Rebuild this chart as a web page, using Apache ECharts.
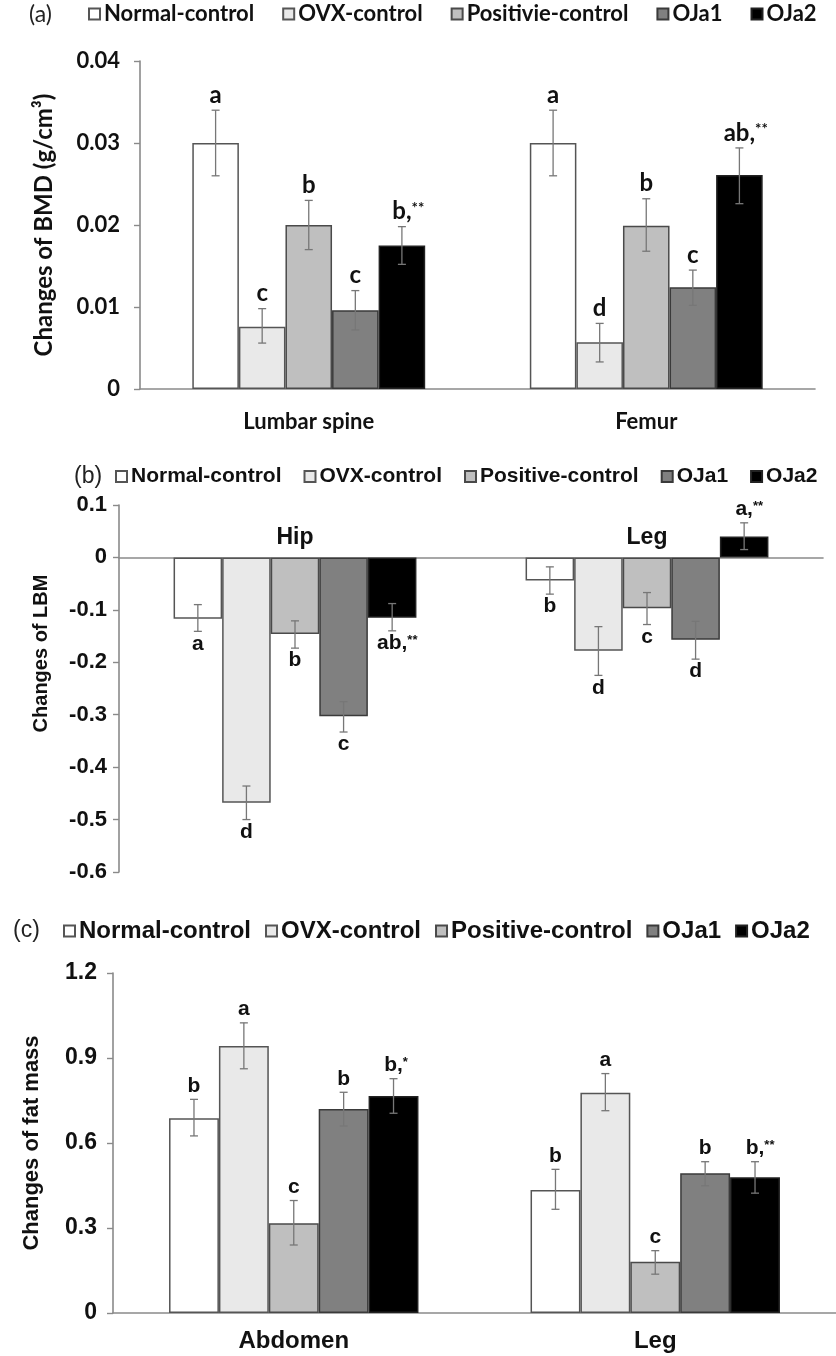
<!DOCTYPE html>
<html><head><meta charset="utf-8">
<script src="https://cdn.jsdelivr.net/npm/echarts/dist/echarts.min.js"></script>
<style>html,body{margin:0;padding:0;background:#fff}#c{width:836px;height:1356px}</style>
</head><body><div id="c"></div>
<script>
// ---------------- DATA ----------------
const namesA = ['Normal-control','OVX-control','Positivie-control','OJa1','OJa2'];
const namesBC = ['Normal-control','OVX-control','Positive-control','OJa1','OJa2'];

// Panel (a): Changes of BMD (g/cm3); rows = category, columns = group
const catsA = ['Lumbar spine','Femur'];
const valsA = [[0.030,0.0076,0.020,0.0096,0.0175],[0.030,0.0057,0.0199,0.0124,0.0261]];
const lowA  = [[0.026,0.0056,0.017,0.0072,0.0152],[0.026,0.0033,0.0168,0.0102,0.0226]];
const highA = [[0.034,0.0098,0.023,0.0120,0.0198],[0.034,0.0080,0.0232,0.0145,0.0294]];
const lettersA = [['a','c','b','c','b,**'],['a','d','b','c','ab,**']];
const ticksA = [0,0.01,0.02,0.03,0.04];

// Panel (b): Changes of LBM
const catsB = ['Hip','Leg'];
const valsB = [[-0.117,-0.468,-0.146,-0.303,-0.115],[-0.044,-0.178,-0.097,-0.157,0.040]];
const lowB  = [[-0.141,-0.500,-0.173,-0.333,-0.140],[-0.070,-0.225,-0.128,-0.194,0.015]];
const highB = [[-0.090,-0.436,-0.121,-0.275,-0.088],[-0.018,-0.132,-0.067,-0.122,0.066]];
const lettersB = [['a','d','b','c','ab,**'],['b','d','c','d','a,**']];
const ticksB = [-0.6,-0.5,-0.4,-0.3,-0.2,-0.1,0,0.1];

// Panel (c): Changes of fat mass
const catsC = ['Abdomen','Leg'];
const valsC = [[0.687,0.942,0.317,0.720,0.766],[0.434,0.777,0.181,0.493,0.479]];
const lowC  = [[0.625,0.862,0.240,0.660,0.705],[0.366,0.714,0.137,0.449,0.423]];
const highC = [[0.754,1.024,0.397,0.779,0.827],[0.507,0.845,0.220,0.534,0.534]];
const lettersC = [['b','a','c','b','b,*'],['b','a','c','b','b,**']];
const ticksC = [0,0.3,0.6,0.9,1.2];

// ---------------- STYLE ----------------
const fills = ['#ffffff','#e9e9e9','#bfbfbf','#808080','#000000'];
const borders = ['#555555','#555555','#4a4a4a','#3a3a3a','#222222'];
const FONT_A = 'Lato, "Open Sans", sans-serif';
const FONT_B = '"Liberation Sans Narrow", "Liberation Sans", Arial, sans-serif';
const FONT_C = '"Liberation Sans", Arial, sans-serif';
const ctx = document.createElement('canvas').getContext('2d');
function textW(t, font){ ctx.font = font; return ctx.measureText(t).width; }

const panels = [
  {cats:catsA, vals:valsA, low:lowA, high:highA, letters:lettersA, ticks:ticksA, names:namesA,
   grid:{left:140, top:61, width:675, height:328}, min:0, max:0.04, interval:0.01,
   fmt:v=> v===0?'0':v.toFixed(2), yName:'Changes of BMD (g/cm³)', nameGap:84, nameFont:FONT_A, nameSize:24, namePad:0,
   tickFont:FONT_A, tickSize:22, tickMargin:20, catFont:FONT_A, catSize:22, catMargin:22, catOnZero:false,
   letterFont:FONT_A, letterSize:24, legendLeft:88, legendTop:3, legendFont:FONT_A, legendSize:22, legendGap:28,
   tag:'(a)', tagX:29, tagY:16},
  {cats:catsB, vals:valsB, low:lowB, high:highB, letters:lettersB, ticks:ticksB, names:namesBC,
   grid:{left:119, top:505, width:704, height:367}, min:-0.6, max:0.1, interval:0.1,
   fmt:v=> Math.abs(v)<1e-9?'0':v.toFixed(1), yName:'Changes of LBM', nameGap:68, nameFont:FONT_C, nameSize:20, namePad:70,
   tickFont:FONT_B, tickSize:22, tickMargin:12, catFont:FONT_B, catSize:23, catMargin:12, catOnZero:true,
   letterFont:FONT_C, letterSize:21, legendLeft:115, legendTop:466, legendFont:FONT_B, legendSize:21, legendGap:22,
   tag:'(b)', tagX:74, tagY:478},
  {cats:catsC, vals:valsC, low:lowC, high:highC, letters:lettersC, ticks:ticksC, names:namesBC,
   grid:{left:113, top:973, width:725, height:340}, min:0, max:1.2, interval:0.3,
   fmt:v=> v===0?'0':v.toFixed(1), yName:'Changes of fat mass', nameGap:70, nameFont:FONT_C, nameSize:22, namePad:0,
   tickFont:FONT_C, tickSize:23, tickMargin:16, catFont:FONT_C, catSize:24, catMargin:16, catOnZero:false,
   letterFont:FONT_C, letterSize:21, legendLeft:63, legendTop:919, legendFont:FONT_B, legendSize:24, legendGap:14,
   tag:'(c)', tagX:13, tagY:932}
];

const option = {animation:false, backgroundColor:'#fff', grid:[], xAxis:[], yAxis:[], legend:[], series:[], graphic:[]};
const axisGray = '#8a8a8a';

panels.forEach((P, pi) => {
  option.grid.push(Object.assign({containLabel:false}, P.grid));
  option.xAxis.push({type:'category', gridIndex:pi, data:P.cats,
    axisLine:{show:true, onZero:true, lineStyle:{color:axisGray, width:1.6}},
    axisTick:{show:false},
    axisLabel:{show:!P.catOnZero, margin:P.catMargin, color:'#111', fontFamily:P.catFont, fontSize:P.catSize, fontWeight:'bold'}});
  option.yAxis.push({type:'value', gridIndex:pi, min:P.min, max:P.max, interval:P.interval,
    axisLine:{show:true, lineStyle:{color:axisGray, width:1.6}},
    axisTick:{show:true, length:6, lineStyle:{color:axisGray, width:1.4}},
    splitLine:{show:false},
    axisLabel:{formatter:P.fmt, margin:P.tickMargin, color:'#111', fontFamily:P.tickFont, fontSize:P.tickSize, fontWeight:'bold'},
    name:P.yName, nameLocation:'middle', nameRotate:90, nameGap:P.nameGap,
    nameTextStyle:{color:'#111', fontFamily:P.nameFont, fontSize:P.nameSize, fontWeight:'bold', padding:[0,0,0,P.namePad]}});
  option.legend.push({data:P.names.map(n=>({name:n})), left:P.legendLeft, top:P.legendTop, padding:0,
    itemWidth:11, itemHeight:11, itemGap:P.legendGap, icon:'rect', selectedMode:false,
    textStyle:{color:'#111', fontFamily:P.legendFont, fontSize:P.legendSize, fontWeight:'bold', padding:[0,0,0,-1]}});
  option.graphic.push({type:'text', left:P.tagX, top:P.tagY-13, style:{text:P.tag, fill:'#222', font:'23px '+P.legendFont}});

  P.names.forEach((n, g) => {
    option.series.push({type:'bar', name:n, xAxisIndex:pi, yAxisIndex:pi, silent:true,
      data:P.cats.map((_, c) => P.vals[c][g]),
      barGap:'0%', barCategoryGap:'31%',
      itemStyle:{color:fills[g], borderColor:borders[g], borderWidth:1.5}});
  });

  // category names sitting just above the zero line (panel b)
  if (P.catOnZero) {
    option.series.push({type:'custom', xAxisIndex:pi, yAxisIndex:pi, silent:true, z:11,
      data:P.cats.map((_, c) => [c, 0]), encode:{x:0, y:1},
      renderItem:(params, api) => {
        const pt = api.coord([api.value(0), 0]);
        return {type:'text', x:pt[0], y:pt[1]-8, style:{text:P.cats[params.dataIndex],
          font:'bold ' + P.catSize + 'px ' + P.catFont, fill:'#111',
          align:'center', verticalAlign:'bottom', textAlign:'center', textVerticalAlign:'bottom'}};
      }});
  }

  const errData = [];
  P.cats.forEach((_, c) => P.names.forEach((__, g) => errData.push([c, g, P.low[c][g], P.high[c][g], P.vals[c][g]])));
  option.series.push({type:'custom', xAxisIndex:pi, yAxisIndex:pi, silent:true, z:10,
    data:errData, encode:{x:0, y:[2,3]},
    renderItem:(params, api) => {
      const c = api.value(0), g = api.value(1), lo = api.value(2), hi = api.value(3), v = api.value(4);
      const band = api.size([1,0])[0];
      const cx = api.coord([c, 0])[0];
      const bw = band*0.69/5;
      const x = cx - band*0.69/2 + (g+0.5)*bw;
      const yl = api.coord([c, lo])[1], yh = api.coord([c, hi])[1];
      const ls = {stroke:'#777', lineWidth:1.3};
      const cap = 4;
      const kids = [
        {type:'line', shape:{x1:x, y1:yl, x2:x, y2:yh}, style:ls},
        {type:'line', shape:{x1:x-cap, y1:yl, x2:x+cap, y2:yl}, style:ls},
        {type:'line', shape:{x1:x-cap, y1:yh, x2:x+cap, y2:yh}, style:ls}
      ];
      const lab = P.letters[c][g];
      const si = lab.indexOf('*');
      const main = si >= 0 ? lab.slice(0, si) : lab;
      const stars = si >= 0 ? lab.slice(si) : '';
      const fnt = 'bold ' + P.letterSize + 'px ' + P.letterFont;
      const above = v >= 0;
      const ty = above ? yh - 3 : yl + 2;
      kids.push({type:'text', x:x, y:ty, style:{text:main, font:fnt, fill:'#111',
        align:'center', verticalAlign: above ? 'bottom' : 'top',
        textAlign:'center', textVerticalAlign: above ? 'bottom' : 'top'}});
      if (stars) {
        const w = textW(main, fnt);
        const sf = 'bold ' + Math.round(P.letterSize*0.62) + 'px ' + P.letterFont;
        const sy = above ? ty - P.letterSize*0.95 : ty + 1;
        kids.push({type:'text', x:x + w/2, y:sy, style:{text:stars, font:sf, fill:'#111',
          align:'left', verticalAlign:'top', textAlign:'left', textVerticalAlign:'top'}});
      }
      return {type:'group', children:kids};
    }});
});

const chart = echarts.init(document.getElementById('c'), null, {renderer:'canvas'});
chart.setOption(option);
</script>
</body></html>
